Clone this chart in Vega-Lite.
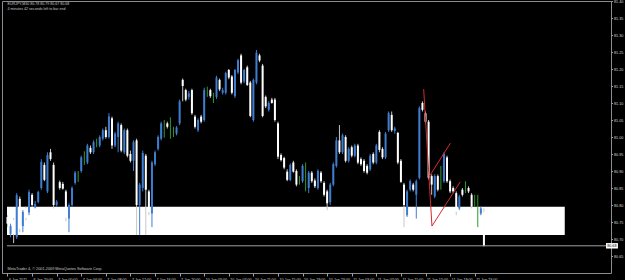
{
  "$schema": "https://vega.github.io/schema/vega-lite/v6.json",
  "width": 609,
  "height": 272,
  "autosize": {"type": "none"},
  "padding": {"left": 2, "top": 1, "right": 14, "bottom": 7},
  "background": "#000000",
  "config": {"view": {"stroke": "#8c8c8c", "strokeWidth": 1}, "font": "Liberation Sans"},
  "datasets": {
    "bars": [
      {"i":0,"o":80.765,"h":80.770,"l":80.735,"c":80.745},
      {"i":1,"o":80.715,"h":80.745,"l":80.705,"c":80.738},
      {"i":2,"o":80.756,"h":80.762,"l":80.688,"c":80.715},
      {"i":3,"o":80.705,"h":80.835,"l":80.700,"c":80.829},
      {"i":4,"o":80.818,"h":80.825,"l":80.720,"c":80.730},
      {"i":5,"o":80.738,"h":80.785,"l":80.720,"c":80.780},
      {"i":6,"o":80.790,"h":80.795,"l":80.755,"c":80.762},
      {"i":7,"o":80.778,"h":80.845,"l":80.770,"c":80.838},
      {"i":8,"o":80.830,"h":80.835,"l":80.795,"c":80.800},
      {"i":9,"o":80.793,"h":80.812,"l":80.790,"c":80.803},
      {"i":10,"o":80.809,"h":80.842,"l":80.805,"c":80.838},
      {"i":11,"o":80.850,"h":80.935,"l":80.845,"c":80.927},
      {"i":12,"o":80.918,"h":80.925,"l":80.870,"c":80.874},
      {"i":13,"o":80.840,"h":80.955,"l":80.835,"c":80.947},
      {"i":14,"o":80.955,"h":80.965,"l":80.930,"c":80.935},
      {"i":15,"o":80.918,"h":80.925,"l":80.790,"c":80.800},
      {"i":16,"o":80.800,"h":80.815,"l":80.795,"c":80.810},
      {"i":17,"o":80.867,"h":80.872,"l":80.845,"c":80.850},
      {"i":18,"o":80.862,"h":80.868,"l":80.845,"c":80.848},
      {"i":19,"o":80.840,"h":80.845,"l":80.752,"c":80.762},
      {"i":20,"o":80.760,"h":80.805,"l":80.720,"c":80.800},
      {"i":21,"o":80.800,"h":80.855,"l":80.795,"c":80.850},
      {"i":22,"o":80.865,"h":80.900,"l":80.860,"c":80.895},
      {"i":23,"o":80.880,"h":80.900,"l":80.868,"c":80.880},
      {"i":24,"o":80.900,"h":80.945,"l":80.895,"c":80.940},
      {"i":25,"o":80.930,"h":80.958,"l":80.918,"c":80.930},
      {"i":26,"o":80.925,"h":80.980,"l":80.920,"c":80.975},
      {"i":27,"o":80.968,"h":80.975,"l":80.950,"c":80.955},
      {"i":28,"o":80.955,"h":80.990,"l":80.950,"c":80.985},
      {"i":29,"o":80.980,"h":80.995,"l":80.970,"c":80.980},
      {"i":30,"o":80.975,"h":81.005,"l":80.970,"c":81.000},
      {"i":31,"o":80.995,"h":81.025,"l":80.990,"c":81.020},
      {"i":32,"o":81.020,"h":81.030,"l":80.995,"c":81.000},
      {"i":33,"o":81.000,"h":81.070,"l":80.995,"c":81.060},
      {"i":34,"o":81.055,"h":81.060,"l":80.965,"c":80.975},
      {"i":35,"o":80.975,"h":81.015,"l":80.970,"c":81.010},
      {"i":36,"o":81.000,"h":81.045,"l":80.955,"c":81.040},
      {"i":37,"o":81.035,"h":81.040,"l":80.955,"c":80.960},
      {"i":38,"o":80.955,"h":81.025,"l":80.950,"c":81.020},
      {"i":39,"o":81.020,"h":81.025,"l":80.940,"c":80.945},
      {"i":40,"o":80.950,"h":80.960,"l":80.925,"c":80.930},
      {"i":41,"o":80.930,"h":80.990,"l":80.900,"c":80.985},
      {"i":42,"o":80.990,"h":80.995,"l":80.712,"c":80.800},
      {"i":43,"o":80.800,"h":80.865,"l":80.712,"c":80.860},
      {"i":44,"o":80.850,"h":80.960,"l":80.840,"c":80.953},
      {"i":45,"o":80.945,"h":80.950,"l":80.712,"c":80.845},
      {"i":46,"o":80.840,"h":80.845,"l":80.770,"c":80.780},
      {"i":47,"o":80.775,"h":80.930,"l":80.735,"c":80.925},
      {"i":48,"o":80.920,"h":80.960,"l":80.915,"c":80.955},
      {"i":49,"o":80.965,"h":81.005,"l":80.960,"c":81.000},
      {"i":50,"o":80.995,"h":81.045,"l":80.990,"c":81.040},
      {"i":51,"o":81.025,"h":81.050,"l":80.998,"c":81.025},
      {"i":52,"o":81.040,"h":81.045,"l":81.025,"c":81.030},
      {"i":53,"o":81.030,"h":81.058,"l":80.995,"c":81.030},
      {"i":54,"o":81.020,"h":81.030,"l":81.000,"c":81.020},
      {"i":55,"o":81.010,"h":81.032,"l":81.005,"c":81.028},
      {"i":56,"o":81.040,"h":81.110,"l":81.035,"c":81.105},
      {"i":57,"o":81.168,"h":81.172,"l":81.105,"c":81.150},
      {"i":58,"o":81.138,"h":81.142,"l":81.105,"c":81.110},
      {"i":59,"o":81.118,"h":81.135,"l":81.110,"c":81.128},
      {"i":60,"o":81.138,"h":81.142,"l":81.065,"c":81.070},
      {"i":61,"o":81.060,"h":81.065,"l":81.025,"c":81.030},
      {"i":62,"o":81.020,"h":81.055,"l":81.015,"c":81.050},
      {"i":63,"o":81.060,"h":81.065,"l":81.040,"c":81.045},
      {"i":64,"o":81.050,"h":81.145,"l":81.045,"c":81.138},
      {"i":65,"o":81.130,"h":81.148,"l":81.118,"c":81.130},
      {"i":66,"o":81.138,"h":81.142,"l":81.115,"c":81.120},
      {"i":67,"o":81.115,"h":81.130,"l":81.100,"c":81.115},
      {"i":68,"o":81.118,"h":81.180,"l":81.112,"c":81.175},
      {"i":69,"o":81.168,"h":81.172,"l":81.135,"c":81.140},
      {"i":70,"o":81.130,"h":81.145,"l":81.125,"c":81.138},
      {"i":71,"o":81.130,"h":81.192,"l":81.125,"c":81.188},
      {"i":72,"o":81.197,"h":81.200,"l":81.170,"c":81.175},
      {"i":73,"o":81.178,"h":81.182,"l":81.125,"c":81.130},
      {"i":74,"o":81.120,"h":81.200,"l":81.115,"c":81.197},
      {"i":75,"o":81.190,"h":81.230,"l":81.185,"c":81.226},
      {"i":76,"o":81.240,"h":81.245,"l":81.155,"c":81.160},
      {"i":77,"o":81.163,"h":81.200,"l":81.158,"c":81.197},
      {"i":78,"o":81.205,"h":81.210,"l":81.150,"c":81.153},
      {"i":79,"o":81.160,"h":81.165,"l":81.058,"c":81.062},
      {"i":80,"o":81.050,"h":81.172,"l":81.045,"c":81.168},
      {"i":81,"o":81.160,"h":81.256,"l":81.155,"c":81.248},
      {"i":82,"o":81.240,"h":81.245,"l":81.220,"c":81.225},
      {"i":83,"o":81.210,"h":81.215,"l":81.058,"c":81.062},
      {"i":84,"o":81.118,"h":81.122,"l":81.085,"c":81.090},
      {"i":85,"o":81.080,"h":81.105,"l":81.075,"c":81.100},
      {"i":86,"o":81.110,"h":81.115,"l":81.098,"c":81.100},
      {"i":87,"o":81.110,"h":81.115,"l":81.045,"c":81.050},
      {"i":88,"o":81.040,"h":81.045,"l":80.935,"c":80.942},
      {"i":89,"o":80.947,"h":80.952,"l":80.928,"c":80.932},
      {"i":90,"o":80.938,"h":80.942,"l":80.905,"c":80.910},
      {"i":91,"o":80.898,"h":80.905,"l":80.870,"c":80.874},
      {"i":92,"o":80.874,"h":80.922,"l":80.870,"c":80.918},
      {"i":93,"o":80.925,"h":80.930,"l":80.895,"c":80.898},
      {"i":94,"o":80.900,"h":80.905,"l":80.855,"c":80.860},
      {"i":95,"o":80.875,"h":80.885,"l":80.860,"c":80.875},
      {"i":96,"o":80.870,"h":80.920,"l":80.865,"c":80.915},
      {"i":97,"o":80.905,"h":80.925,"l":80.840,"c":80.905},
      {"i":98,"o":80.850,"h":80.900,"l":80.835,"c":80.895},
      {"i":99,"o":80.895,"h":80.900,"l":80.865,"c":80.870},
      {"i":100,"o":80.872,"h":80.878,"l":80.850,"c":80.855},
      {"i":101,"o":80.850,"h":80.905,"l":80.845,"c":80.900},
      {"i":102,"o":80.895,"h":80.900,"l":80.865,"c":80.870},
      {"i":103,"o":80.865,"h":80.870,"l":80.825,"c":80.830},
      {"i":104,"o":80.840,"h":80.845,"l":80.785,"c":80.805},
      {"i":105,"o":80.808,"h":80.865,"l":80.800,"c":80.860},
      {"i":106,"o":80.860,"h":80.925,"l":80.855,"c":80.920},
      {"i":107,"o":80.915,"h":81.000,"l":80.910,"c":80.990},
      {"i":108,"o":80.990,"h":81.035,"l":80.950,"c":80.955},
      {"i":109,"o":80.955,"h":81.010,"l":80.950,"c":81.005},
      {"i":110,"o":81.000,"h":81.005,"l":80.925,"c":80.930},
      {"i":111,"o":80.930,"h":80.970,"l":80.925,"c":80.965},
      {"i":112,"o":80.970,"h":80.975,"l":80.940,"c":80.945},
      {"i":113,"o":80.945,"h":80.980,"l":80.940,"c":80.975},
      {"i":114,"o":80.975,"h":80.980,"l":80.920,"c":80.925},
      {"i":115,"o":80.935,"h":80.940,"l":80.915,"c":80.920},
      {"i":116,"o":80.930,"h":80.935,"l":80.895,"c":80.900},
      {"i":117,"o":80.915,"h":80.920,"l":80.890,"c":80.895},
      {"i":118,"o":80.905,"h":80.950,"l":80.900,"c":80.945},
      {"i":119,"o":80.950,"h":80.955,"l":80.920,"c":80.925},
      {"i":120,"o":80.925,"h":80.980,"l":80.920,"c":80.975},
      {"i":121,"o":81.015,"h":81.020,"l":80.955,"c":80.962},
      {"i":122,"o":80.965,"h":80.970,"l":80.935,"c":80.940},
      {"i":123,"o":80.940,"h":81.015,"l":80.935,"c":81.010},
      {"i":124,"o":81.020,"h":81.075,"l":81.015,"c":81.070},
      {"i":125,"o":81.065,"h":81.075,"l":81.015,"c":81.020},
      {"i":126,"o":81.018,"h":81.030,"l":81.010,"c":81.025},
      {"i":127,"o":81.012,"h":81.015,"l":80.920,"c":80.925},
      {"i":128,"o":80.930,"h":80.935,"l":80.865,"c":80.868},
      {"i":129,"o":80.860,"h":80.865,"l":80.735,"c":80.800},
      {"i":130,"o":80.770,"h":80.845,"l":80.765,"c":80.840},
      {"i":131,"o":80.845,"h":80.875,"l":80.840,"c":80.870},
      {"i":132,"o":80.860,"h":80.865,"l":80.840,"c":80.845},
      {"i":133,"o":80.830,"h":80.875,"l":80.760,"c":80.870},
      {"i":134,"o":80.880,"h":81.090,"l":80.875,"c":81.085},
      {"i":135,"o":81.100,"h":81.105,"l":81.075,"c":81.080},
      {"i":136,"o":81.070,"h":81.075,"l":81.040,"c":81.045},
      {"i":137,"o":81.045,"h":81.050,"l":80.875,"c":80.880},
      {"i":138,"o":80.885,"h":80.890,"l":80.830,"c":80.860},
      {"i":139,"o":80.825,"h":80.890,"l":80.820,"c":80.885},
      {"i":140,"o":80.885,"h":80.890,"l":80.840,"c":80.845},
      {"i":141,"o":80.860,"h":80.915,"l":80.845,"c":80.860},
      {"i":142,"o":80.870,"h":80.955,"l":80.865,"c":80.950},
      {"i":143,"o":80.940,"h":80.945,"l":80.865,"c":80.870},
      {"i":144,"o":80.870,"h":80.875,"l":80.835,"c":80.840},
      {"i":145,"o":80.850,"h":80.855,"l":80.835,"c":80.840},
      {"i":146,"o":80.835,"h":80.840,"l":80.770,"c":80.780},
      {"i":147,"o":80.790,"h":80.830,"l":80.785,"c":80.825},
      {"i":148,"o":80.845,"h":80.850,"l":80.825,"c":80.830},
      {"i":149,"o":80.848,"h":80.870,"l":80.835,"c":80.848},
      {"i":150,"o":80.850,"h":80.855,"l":80.835,"c":80.840},
      {"i":151,"o":80.830,"h":80.835,"l":80.790,"c":80.795},
      {"i":152,"o":80.815,"h":80.830,"l":80.795,"c":80.815},
      {"i":153,"o":80.800,"h":80.830,"l":80.735,"c":80.800},
      {"i":154,"o":80.775,"h":80.795,"l":80.770,"c":80.790},
      {"i":155,"o":80.780,"h":80.790,"l":80.678,"c":80.680}
    ],
    "zone": [{"x1": -0.16, "x2": 181.3, "p1": 80.712, "p2": 80.795}],
    "lines": [
      {"i1": 135.4, "p1": 81.141, "i2": 138.1, "p2": 80.738},
      {"i1": 137.3, "p1": 80.885, "i2": 144.1, "p2": 80.982},
      {"i1": 138.1, "p1": 80.738, "i2": 147.3, "p2": 80.868}
    ]
  },
  "encoding": {
    "x": {"type": "quantitative", "title": null,
      "scale": {"domain": [-0.16, 194.72], "nice": false, "zero": false},
      "axis": {"values": [0,8,16,24,32,40,48,56,64,72,80,88,96,104,112,120,128,136,144,152],
        "labelExpr": "['6 Jan 2011','6 Jan 20:00','7 Jan 00:00','7 Jan 04:00','7 Jan 08:00','7 Jan 12:00','7 Jan 16:00','7 Jan 20:00','10 Jan 03:00','10 Jan 07:00','10 Jan 11:00','10 Jan 15:00','10 Jan 19:00','10 Jan 23:00','11 Jan 03:00','11 Jan 07:00','11 Jan 11:00','11 Jan 15:00','11 Jan 19:00','11 Jan 23:00'][round(datum.value/8)]",
        "labelAlign": "left", "labelBaseline": "top", "labelFontSize": 3.7, "labelColor": "#d8d8d8",
        "labelPadding": 1, "labelOffset": 1, "tickSize": 3, "tickColor": "#a0a0a0", "domain": false,
        "grid": false, "title": null, "labelOverlap": false, "labelBound": false, "labelFlush": false}},
    "y": {"type": "quantitative", "title": null,
      "scale": {"domain": [80.60, 81.40], "nice": false, "zero": false},
      "axis": {"orient": "right", "values": [80.65,80.70,80.75,80.80,80.85,80.90,80.95,81.00,81.05,81.10,81.15,81.20,81.25,81.30,81.35,81.40],
        "format": ".2f", "labelFontSize": 3.7, "labelColor": "#d8d8d8", "labelPadding": 1, "tickSize": 1.5,
        "tickColor": "#a0a0a0", "domain": false, "grid": false, "title": null, "labelOverlap": false, "labelBound": false, "labelFlush": false}}
  },
  "layer": [
    {
      "data": {"name": "zone"},
      "mark": {"type": "rect", "color": "#ffffff", "clip": true},
      "encoding": {
        "x": {"field": "x1", "type": "quantitative"},
        "x2": {"field": "x2"},
        "y": {"field": "p1", "type": "quantitative"},
        "y2": {"field": "p2"}
      }
    },
    {
      "data": {"name": "bars"},
      "mark": {"type": "rule", "strokeWidth": 1},
      "encoding": {
        "x": {"field": "i", "type": "quantitative"},
        "y": {"field": "l", "type": "quantitative"},
        "y2": {"field": "h"},
        "color": {"condition": [{"test": "datum.c == datum.o", "value": "#2e9a2e"}, {"test": "datum.c > datum.o", "value": "#3f7dd0"}], "value": "#c8c8c8"}
      }
    },
    {
      "data": {"name": "bars"},
      "mark": {"type": "bar", "width": 2},
      "encoding": {
        "x": {"field": "i", "type": "quantitative"},
        "y": {"field": "o", "type": "quantitative"},
        "y2": {"field": "c"},
        "color": {"condition": [{"test": "datum.c == datum.o", "value": "#2e9a2e"}, {"test": "datum.c > datum.o", "value": "#3f7dd0"}], "value": "#ffffff"}
      }
    },
    {
      "data": {"name": "lines"},
      "mark": {"type": "rule", "color": "#d42a2a", "strokeWidth": 1},
      "encoding": {
        "x": {"field": "i1", "type": "quantitative"},
        "x2": {"field": "i2"},
        "y": {"field": "p1", "type": "quantitative"},
        "y2": {"field": "p2"}
      }
    },
    {
      "data": {"values": [{}]},
      "mark": {"type": "rule", "color": "#a0a0a0", "strokeWidth": 1},
      "encoding": {
        "x": {"datum": -0.16, "type": "quantitative"},
        "x2": {"datum": 194.72},
        "y": {"datum": 80.68, "type": "quantitative"}
      }
    },
    {
      "data": {"values": [{}]},
      "mark": {"type": "rect", "color": "#ffffff", "clip": false},
      "encoding": {
        "x": {"datum": 194.72, "type": "quantitative"},
        "x2": {"datum": 198.6},
        "y": {"datum": 80.688, "type": "quantitative"},
        "y2": {"datum": 80.672}
      }
    },
    {
      "data": {"values": [{}]},
      "mark": {"type": "text", "text": "80.68", "color": "#000000", "fontSize": 3.7, "align": "left", "baseline": "middle", "clip": false},
      "encoding": {
        "x": {"datum": 195.12, "type": "quantitative"},
        "y": {"datum": 80.68, "type": "quantitative"}
      }
    },
    {
      "data": {"values": [{}]},
      "mark": {"type": "text", "text": ["EURJPY,M30  80.78 80.79 80.67 80.68", "4 minutes 42 seconds left to bar end"], "lineHeight": 4.8, "color": "#c8c8c8", "fontSize": 3.6, "align": "left", "baseline": "top"},
      "encoding": {
        "x": {"datum": 0, "type": "quantitative"},
        "y": {"datum": 81.397, "type": "quantitative"}
      }
    },
    {
      "data": {"values": [{}]},
      "mark": {"type": "text", "text": "MetaTrader 4, © 2001-2009 MetaQuotes Software Corp.", "color": "#c8c8c8", "fontSize": 3.8, "align": "left", "baseline": "alphabetic"},
      "encoding": {
        "x": {"datum": 0, "type": "quantitative"},
        "y": {"datum": 80.609, "type": "quantitative"}
      }
    }
  ]
}
